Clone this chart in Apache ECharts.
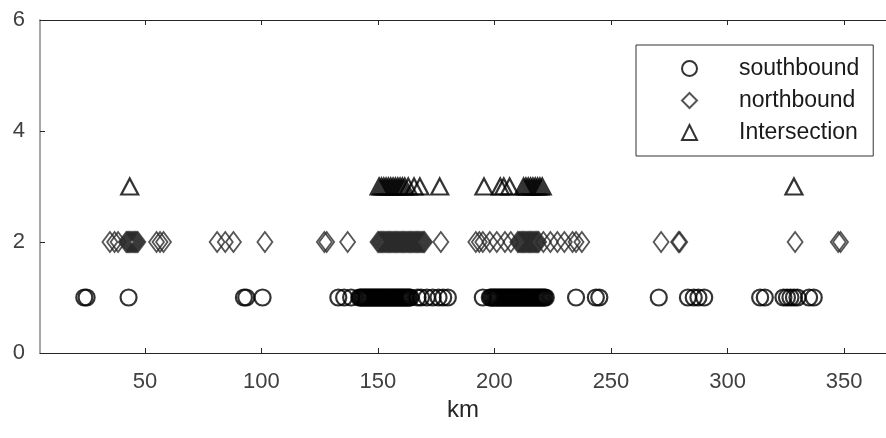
<!DOCTYPE html>
<html>
<head>
<meta charset="utf-8">
<script src="https://cdn.jsdelivr.net/npm/echarts@6/dist/echarts.min.js"></script>
<style>
    html, body {margin: 0; padding: 0; background: #fff;}
    #chart {width: 886px; height: 438px;}
</style>
</head>
<body>
<div id="chart"></div>
<script>
// km positions, one list per row
const southbound = [24, 25, 43, 92.5, 93.5, 100.5,
    133, 135.5, 138.5,
    142, 142.5, 143, 143.5, 144, 144.5, 145, 145.5, 146, 146.5, 147, 147.5, 148, 148.5,
    149, 149.5, 150, 150.5, 151, 151.5, 152, 152.5, 153, 153.5, 154, 154.5, 155, 155.5,
    156, 156.5, 157, 157.5, 158, 158.5, 159, 159.5, 160, 160.5, 161, 161.5, 162, 162.5,
    163, 163.5, 164,
    167, 168.5, 171, 173.5, 176, 178, 180,
    195,
    198, 198.5, 199, 199.5, 200, 200.5, 201, 201.5, 202, 202.5, 203, 203.5, 204, 204.5,
    205, 205.5, 206, 206.5, 207, 207.5, 208, 208.5, 209, 209.5, 210, 210.5, 211, 211.5,
    212, 212.5, 213, 213.5, 214, 214.5, 215, 215.5, 216, 216.5, 217, 217.5, 218, 218.5,
    219, 219.5, 220, 220.5, 221, 221.5, 222,
    235, 243.5, 245, 270.5, 283, 285.5, 287.5, 290, 314, 316, 324, 325.5, 327, 328.5, 330, 335, 337]
const northbound = [35, 37, 38.5,
    42, 42.5, 43, 43.5, 44, 44.5, 45, 45.5, 46, 46.5, 47,
    55, 56.5, 58, 81, 84.5, 88, 101.5, 127, 128, 137,
    150, 150.5, 151, 151.5, 152, 152.5, 153, 153.5, 154, 154.5, 155, 155.5, 156, 156.5,
    157, 157.5, 158, 158.5, 159, 159.5, 160, 160.5, 161, 161.5, 162, 162.5, 163, 163.5,
    164, 164.5, 165, 165.5, 166, 166.5, 167, 167.5, 168, 168.5, 169, 169.5, 170,
    177,
    192, 193.5, 195, 198, 201, 204.5, 207,
    210, 210.5, 211, 211.5, 212, 212.5, 213, 213.5, 214, 214.5, 215, 215.5, 216, 216.5,
    217, 217.5, 218, 218.5, 219,
    221, 224, 227, 230, 233.5, 235, 237.5, 271.5, 279, 279.5, 329, 347.5, 348.5]
const intersection = [43.5,
    150.5, 151.5, 152.5, 153.5, 154.5, 155.5, 156.5, 157.5, 158.5, 159.5, 160.5, 161.5,
    163, 165.5, 168, 176.5,
    195.5, 202.5, 204, 206.5,
    212.5, 213.5, 214.5, 215.5, 216.5, 217.5, 218.5, 219.5, 220.5,
    328.5]

const southLevel = 1
const northLevel = 2
const interLevel = 3

const seriesNames = ['southbound', 'northbound', 'Intersection']
const xTicks = [50, 100, 150, 200, 250, 300, 350]

const font = 'Liberation Sans, Arial, Helvetica, sans-serif'
const axisColor = '#262626'

const toPoints = (xs, level) => xs.map(x => [x, level])

const chart = echarts.init(document.getElementById('chart'))

const option = {
    animation: false,
    grid: {left: 40, right: 0, top: 20, bottom: 85, containLabel: false},
    legend: {
        orient: 'vertical',
        left: 636,
        top: 45,
        padding: [12, 14, 12, 45],
        itemWidth: 15,
        itemHeight: 15,
        itemGap: 9,
        borderColor: '#333',
        borderWidth: 1,
        backgroundColor: '#fff',
        textStyle: {fontSize: 23, fontFamily: font, color: '#1a1a1a', padding: [0, 0, 0, 37]},
        data: seriesNames
    },
    xAxis: [
        {
            type: 'value',
            min: 5,
            max: 368,
            position: 'bottom',
            name: 'km',
            nameLocation: 'middle',
            nameGap: 44,
            nameTextStyle: {fontSize: 24, fontFamily: font, color: axisColor},
            axisLine: {show: true, onZero: false, lineStyle: {color: axisColor, width: 1}},
            axisTick: {show: true, inside: true, length: 5, customValues: xTicks, lineStyle: {color: axisColor}},
            axisLabel: {customValues: xTicks, fontSize: 22, fontFamily: font, color: '#404040', margin: 18},
            splitLine: {show: false}
        },
        {
            type: 'value',
            min: 5,
            max: 368,
            position: 'top',
            axisLine: {show: true, onZero: false, lineStyle: {color: axisColor, width: 1}},
            axisTick: {show: true, inside: true, length: 5, customValues: xTicks, lineStyle: {color: axisColor}},
            axisLabel: {show: false},
            splitLine: {show: false}
        }
    ],
    yAxis: [
        {
            type: 'value',
            min: 0,
            max: 6,
            interval: 2,
            axisLine: {show: true, onZero: false, lineStyle: {color: '#888', width: 1.5}},
            axisTick: {show: true, inside: true, length: 5, lineStyle: {color: axisColor}},
            axisLabel: {fontSize: 22, fontFamily: font, color: '#404040', margin: 15},
            splitLine: {show: false}
        }
    ],
    series: [
        {
            name: seriesNames[0],
            type: 'scatter',
            symbol: 'circle',
            symbolSize: 16,
            silent: true,
            data: toPoints(southbound, southLevel),
            itemStyle: {color: 'rgba(255,255,255,0)', borderColor: '#000', borderWidth: 2.2}
        },
        {
            name: seriesNames[1],
            type: 'scatter',
            symbol: 'diamond',
            symbolSize: [15, 20],
            silent: true,
            data: toPoints(northbound, northLevel),
            itemStyle: {color: 'rgba(255,255,255,0)', borderColor: '#2a2a2a', borderWidth: 1.8}
        },
        {
            name: seriesNames[2],
            type: 'scatter',
            symbol: 'triangle',
            symbolSize: [17, 16],
            silent: true,
            data: toPoints(intersection, interLevel),
            itemStyle: {color: 'rgba(255,255,255,0)', borderColor: '#000', borderWidth: 2.2}
        }
    ]
}

chart.setOption(option)
</script>
</body>
</html>
